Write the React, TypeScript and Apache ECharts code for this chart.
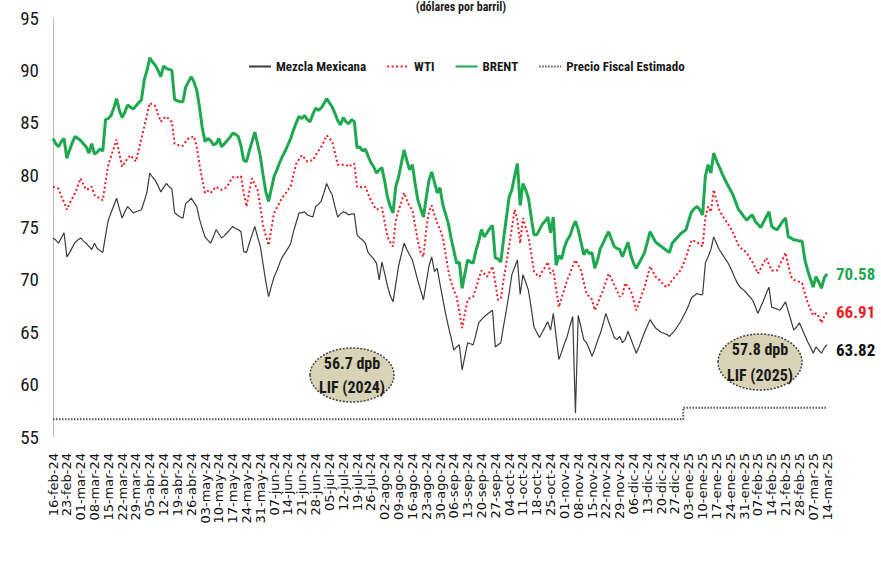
import React, { useEffect, useRef } from "react";
import * as echarts from "echarts";

const monthAbbr = ["ene", "feb", "mar", "abr", "may", "jun", "jul", "ago", "sep", "oct", "nov", "dic"];
const startDate = [2024, 1, 16];
const dayCount = 281;

const brent = [
  83.5, 83.0, 82.7, 83.2, 83.5, 81.6, 82.4, 83.1, 83.7, 83.5,
  83.3, 83.0, 82.7, 82.1, 83.0, 82.0, 82.2, 82.5, 82.3, 85.3,
  85.4, 85.7, 86.4, 87.3, 86.2, 85.5, 86.0, 86.7, 86.5, 86.3,
  86.6, 86.9, 87.2, 89.1, 90.0, 91.2, 90.8, 90.5, 90.0, 89.4,
  90.4, 90.2, 90.1, 90.0, 87.2, 87.1, 87.0, 87.0, 88.4, 88.9,
  89.4, 88.9, 88.1, 86.5, 84.5, 83.2, 83.5, 83.3, 82.9, 83.0,
  83.5, 82.7, 83.0, 83.3, 83.6, 84.0, 83.9, 83.7, 82.8, 81.4,
  81.3, 82.3, 83.2, 84.1, 83.0, 81.8, 80.0, 78.4, 77.5, 78.7,
  79.9, 80.5, 81.2, 81.8, 82.3, 82.9, 83.5, 84.3, 85.0, 85.6,
  85.4, 85.7, 85.3, 85.1, 85.8, 86.4, 86.2, 86.4, 86.8, 87.3,
  86.9, 86.5, 85.9, 85.2, 84.8, 85.5, 85.1, 84.9, 85.3, 85.1,
  82.6, 82.7, 82.3, 82.5, 81.8, 81.2, 80.8, 80.2, 80.5, 80.7,
  79.4, 77.9, 77.0, 76.4, 78.9, 79.8, 81.1, 82.4, 81.4, 80.5,
  81.0, 79.2, 77.6, 76.8, 76.0, 77.8, 79.5, 80.3, 79.3, 78.3,
  78.8, 77.2, 76.3, 75.4, 74.0, 72.8, 71.6, 71.7, 69.2, 70.6,
  71.9, 71.7, 71.6, 72.8, 73.7, 74.8, 74.1, 74.5, 74.9, 75.2,
  72.1, 72.0, 71.7, 73.9, 75.9, 77.9, 78.6, 79.9, 81.1, 77.1,
  79.2, 78.6, 77.8, 76.0, 74.3, 74.3, 74.8, 75.3, 75.6, 76.0,
  74.5, 76.0, 71.4, 72.3, 72.0, 73.1, 73.8, 74.2, 75.0, 75.6,
  74.8, 73.6, 72.4, 72.9, 72.5, 72.6, 71.1, 71.9, 73.0, 73.5,
  74.1, 74.6, 73.9, 73.2, 73.0, 72.9, 72.2, 72.9, 73.6, 72.4,
  71.6, 71.1, 71.6, 72.1, 72.6, 73.6, 74.6, 74.1, 73.6, 73.4,
  73.2, 73.0, 72.8, 72.6, 73.5, 73.8, 74.1, 74.4, 74.6, 74.8,
  75.7, 76.5, 76.8, 77.0, 76.7, 76.2, 79.9, 81.0, 80.2, 82.1,
  81.4, 80.8, 80.2, 79.6, 79.1, 78.6, 78.1, 77.4, 76.7, 76.4,
  76.0, 75.7, 76.0, 76.2, 75.6, 75.3, 75.0, 75.5, 76.0, 76.5,
  75.1, 74.9, 74.8, 75.2, 75.6, 75.9, 74.1, 74.0, 73.8, 73.8,
  73.7, 73.7, 71.9, 70.9, 70.1, 69.3, 70.3, 69.8, 69.2, 70.2,
  70.58,
];

const wti = [
  78.9, 78.8, 78.7, 78.0, 77.4, 76.7, 77.3, 77.8, 78.3, 79.0,
  79.7, 79.1, 78.6, 78.7, 78.9, 78.1, 77.9, 77.8, 77.6, 79.3,
  81.0, 81.8, 82.6, 83.4, 82.0, 80.8, 81.2, 81.6, 81.9, 81.6,
  81.3, 82.4, 83.5, 84.6, 85.8, 86.9, 86.7, 86.6, 85.8, 85.1,
  85.4, 85.6, 85.3, 85.1, 83.0, 82.9, 82.8, 82.8, 83.2, 83.5,
  83.6, 83.7, 82.7, 81.0, 79.6, 78.3, 78.5, 78.3, 78.6, 78.9,
  78.7, 78.6, 78.7, 78.9, 79.4, 79.8, 79.8, 79.8, 79.9, 78.3,
  77.0, 78.4, 79.7, 79.1, 78.6, 77.0, 75.2, 74.2, 73.3, 74.9,
  76.4, 76.9, 77.4, 77.9, 78.2, 78.6, 78.9, 80.0, 81.1, 81.5,
  81.9, 81.6, 81.3, 81.4, 81.4, 81.9, 82.3, 82.7, 83.2, 83.8,
  83.5, 83.2, 82.1, 81.0, 81.0, 81.0, 81.0, 80.8, 81.0, 81.1,
  78.9, 78.9, 78.8, 78.9, 78.2, 77.6, 77.1, 76.7, 76.8, 76.9,
  75.5, 74.1, 73.6, 73.2, 75.7, 76.6, 77.4, 78.3, 77.6, 77.0,
  76.7, 75.2, 73.7, 72.6, 72.2, 74.8, 76.5, 77.1, 76.2, 75.4,
  74.8, 74.1, 72.5, 70.9, 69.8, 69.0, 68.4, 67.0, 65.4, 66.8,
  68.1, 68.3, 68.4, 69.2, 70.1, 70.9, 70.6, 70.3, 70.8, 71.3,
  69.7, 68.1, 68.2, 70.0, 71.6, 73.2, 75.0, 76.7, 75.7, 73.5,
  75.9, 75.0, 74.1, 72.5, 70.8, 70.5, 70.3, 70.8, 71.2, 71.7,
  70.6, 70.9, 69.2, 67.4, 68.3, 69.1, 70.0, 70.6, 71.3, 71.9,
  71.4, 70.9, 69.8, 68.7, 68.4, 68.1, 67.1, 67.7, 68.4, 69.0,
  69.8, 70.6, 70.1, 69.5, 69.0, 68.4, 68.6, 69.7, 69.3, 69.0,
  68.1, 67.1, 67.8, 68.6, 69.3, 70.3, 71.3, 70.8, 70.3, 70.1,
  69.8, 69.5, 69.3, 69.6, 70.0, 70.3, 70.6, 70.9, 71.5, 72.2,
  73.0, 73.8, 73.7, 73.6, 73.4, 73.2, 76.0, 77.0, 76.5, 78.6,
  77.6, 76.7, 76.2, 75.8, 75.4, 75.0, 74.5, 73.9, 73.3, 73.0,
  72.8, 72.6, 72.1, 71.7, 71.2, 70.6, 71.1, 71.6, 72.1, 71.5,
  70.9, 70.9, 70.9, 71.5, 72.0, 72.6, 71.4, 70.3, 70.0, 69.9,
  69.8, 69.7, 68.7, 67.8, 67.2, 66.6, 66.8, 66.5, 65.9, 66.5,
  66.91,
];

const mezcla = [
  74.0, 73.8, 73.5, 74.0, 74.5, 72.2, 72.6, 73.1, 73.6, 73.8,
  74.0, 73.7, 73.5, 73.2, 72.9, 73.5, 73.0, 72.8, 72.6, 74.2,
  75.7, 76.4, 77.1, 77.8, 76.8, 75.9, 76.5, 77.0, 76.7, 76.4,
  76.5, 76.6, 76.7, 77.5, 78.4, 80.2, 79.8, 79.5, 79.0, 78.4,
  78.8, 79.2, 78.9, 78.7, 76.4, 76.2, 76.0, 75.9, 77.3, 77.5,
  77.8, 77.4, 77.0, 75.8, 74.9, 74.1, 73.8, 73.5, 74.1, 74.8,
  74.4, 74.0, 74.2, 74.5, 74.8, 75.1, 74.9, 74.8, 74.6, 72.7,
  72.6, 73.5, 74.3, 75.1, 74.1, 73.2, 71.5, 69.8, 68.4, 69.4,
  70.3, 70.9, 71.6, 72.2, 72.6, 73.0, 73.5, 74.6, 75.5, 76.4,
  76.4, 76.5, 76.2, 76.1, 76.0, 77.0, 77.2, 77.5, 78.3, 79.2,
  78.6, 78.1, 77.0, 76.0, 76.3, 76.5, 76.4, 76.2, 76.3, 76.3,
  74.3, 74.0, 73.8, 73.5, 72.6, 72.3, 72.0, 71.6, 70.0, 71.7,
  70.6, 69.4, 68.5, 67.9, 69.6, 71.3, 72.4, 73.5, 72.9, 72.4,
  71.9, 70.9, 69.9, 69.0, 68.1, 69.7, 71.3, 72.2, 70.8, 71.1,
  69.6, 68.2, 66.8, 65.6, 64.5, 63.3, 63.6, 63.8, 61.4, 62.7,
  64.0, 63.9, 63.8, 64.8, 65.9, 66.2, 66.5, 66.7, 66.9, 67.1,
  63.6, 63.8, 64.0, 65.6, 67.1, 68.7, 70.5, 71.2, 71.9, 68.6,
  70.5, 69.8, 69.0, 67.3, 65.5, 65.0, 64.5, 65.0, 65.5, 66.0,
  65.2, 66.8, 64.6, 62.4, 63.1, 63.9, 64.6, 65.6, 66.5, 57.3,
  66.6, 65.5, 64.3, 64.0, 63.4, 62.7, 63.4, 64.2, 64.9, 65.8,
  66.8, 66.0, 65.3, 64.5, 64.3, 64.6, 64.0, 64.3, 65.1, 64.4,
  63.7, 63.0, 63.6, 64.3, 65.0, 65.6, 66.2, 65.8, 65.4, 65.2,
  65.0, 64.9, 64.8, 64.6, 64.9, 65.2, 65.6, 66.0, 66.5, 67.0,
  67.6, 68.3, 68.5, 68.7, 68.6, 68.6, 71.6, 72.2, 72.9, 74.1,
  73.5, 72.9, 72.5, 72.1, 71.7, 71.2, 70.6, 70.0, 69.5, 69.2,
  69.0, 68.7, 68.4, 68.1, 67.5, 66.8, 67.4, 68.0, 68.7, 69.3,
  67.4, 67.3, 67.2, 67.1, 67.5, 67.9, 67.0, 66.1, 65.2, 65.5,
  65.9, 65.3, 64.7, 64.1, 63.6, 63.0, 63.6, 63.3, 63.0, 63.5,
  63.82,
];

const fiscalPrices = [56.7, 57.8];
const fiscalChangeIndex = 228; // first business day of 2025
const seriesNames = ["Mezcla Mexicana", "WTI", "BRENT", "Precio Fiscal Estimado"];
const yTicks = { min: 55, max: 95, interval: 5 };

function buildCategories(): string[] {
  const out: string[] = [];
  const d = new Date(startDate[0], startDate[1], startDate[2]);
  while (out.length < dayCount) {
    const wd = d.getDay();
    if (wd !== 0 && wd !== 6) {
      const dd = String(d.getDate()).padStart(2, "0");
      const yy = String(d.getFullYear()).slice(2);
      out.push(`${dd}-${monthAbbr[d.getMonth()]}-${yy}`);
    }
    d.setDate(d.getDate() + 1);
  }
  return out;
}

const COND = '"Liberation Sans Narrow", "Arial Narrow", "Roboto Condensed", Roboto, sans-serif';

export default function App() {
  const ref = useRef<HTMLDivElement>(null);
  useEffect(() => {
    if (!ref.current) return;
    const chart = echarts.init(ref.current, undefined, { renderer: "svg" });
    const categories = buildCategories();
    const fiscal = categories.map((_, i) => (i < fiscalChangeIndex ? fiscalPrices[0] : fiscalPrices[1]));

    const endLabel = (color: string, offsetY = 0) => ({
      show: true,
      formatter: (p: any) => Number(p.value).toFixed(2),
      color,
      fontFamily: COND,
      fontWeight: "bold",
      fontSize: 17,
      distance: 9,
      offset: [0, offsetY],
    });

    chart.setOption({
      animation: false,
      backgroundColor: "#ffffff",
      grid: { left: 53, right: 54, top: 18, bottom: 130, containLabel: false },
      legend: {
        left: 243,
        top: 55,
        itemWidth: 22,
        itemHeight: 14,
        itemGap: 20,
        itemStyle: { opacity: 0 },
        data: seriesNames,
        textStyle: { fontFamily: COND, fontWeight: "bold", fontSize: 13, color: "#1a1a1a" },
      },
      xAxis: {
        type: "category",
        boundaryGap: false,
        data: categories,
        axisLine: { show: false },
        axisTick: { show: false },
        axisLabel: {
          interval: 4,
          rotate: 90,
          margin: 16,
          fontFamily: "DejaVu Sans",
          fontSize: 13,
          color: "#111",
        },
      },
      yAxis: {
        type: "value",
        min: yTicks.min,
        max: yTicks.max,
        interval: yTicks.interval,
        axisLine: { show: true, lineStyle: { color: "#c0c0c0", width: 1 } },
        axisTick: { show: false },
        splitLine: { show: false },
        axisLabel: { fontFamily: COND, fontSize: 19, color: "#1a1a1a", margin: 14 },
      },
      series: [
        {
          name: seriesNames[0],
          type: "line",
          data: mezcla,
          symbol: "none",
          lineStyle: { color: "#3c3c3c", width: 1.2 },
          itemStyle: { color: "#3c3c3c" },
          endLabel: endLabel("#111", 5),
          z: 3,
        },
        {
          name: seriesNames[1],
          type: "line",
          data: wti,
          symbol: "none",
          lineStyle: { color: "#ee1c25", width: 2, type: [2, 2.5] },
          itemStyle: { color: "#ee1c25" },
          endLabel: endLabel("#ee1c25"),
          z: 4,
        },
        {
          name: seriesNames[2],
          type: "line",
          data: brent,
          symbol: "none",
          lineStyle: { color: "#1ea84f", width: 3 },
          itemStyle: { color: "#1ea84f" },
          endLabel: endLabel("#1ea84f"),
          z: 5,
        },
        {
          name: seriesNames[3],
          type: "line",
          data: fiscal,
          symbol: "none",
          step: "end",
          lineStyle: { color: "#555", width: 2, type: [1.5, 1.5] },
          itemStyle: { color: "#555" },
          z: 2,
        },
      ],
      graphic: [
        {
          type: "text",
          style: {
            x: 461,
            y: 1,
            text: "(dólares por barril)",
            fontFamily: COND,
            fontWeight: "bold",
            fontSize: 12,
            fill: "#222",
            align: "center",
            verticalAlign: "top",
          },
        },
        {
          type: "ellipse",
          shape: { cx: 352, cy: 375, rx: 42, ry: 27 },
          style: { fill: "#d8d3b6", stroke: "#444", lineWidth: 1.5, lineDash: [2, 1.5] },
          z: 10,
        },
        {
          type: "text",
          style: {
            x: 352,
            y: 375,
            text: "56.7 dpb\nLIF (2024)",
            align: "center",
            verticalAlign: "middle",
            lineHeight: 24,
            fontFamily: COND,
            fontWeight: "bold",
            fontSize: 16,
            fill: "#1a1a1a",
          },
          z: 11,
        },
        {
          type: "ellipse",
          shape: { cx: 760, cy: 362, rx: 42, ry: 28 },
          style: { fill: "#d8d3b6", stroke: "#444", lineWidth: 1.5, lineDash: [2, 1.5] },
          z: 10,
        },
        {
          type: "text",
          style: {
            x: 760,
            y: 362,
            text: "57.8 dpb\nLIF (2025)",
            align: "center",
            verticalAlign: "middle",
            lineHeight: 26,
            fontFamily: COND,
            fontWeight: "bold",
            fontSize: 16,
            fill: "#1a1a1a",
          },
          z: 11,
        },
      ],
    });
    return () => chart.dispose();
  }, []);

  return (
    <div
      ref={ref}
      style={{ position: "fixed", left: 0, top: 0, width: 881, height: 567, background: "#fff" }}
    />
  );
}
